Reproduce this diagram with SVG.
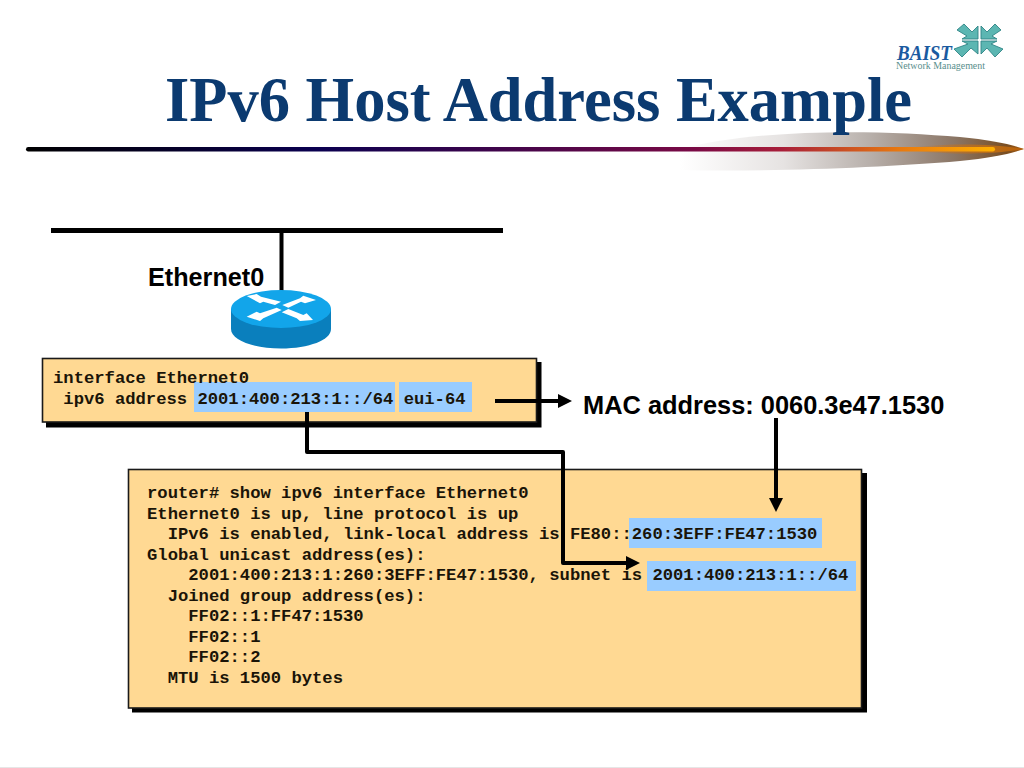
<svg xmlns="http://www.w3.org/2000/svg" width="1024" height="768" viewBox="0 0 1024 768">
<style>
.code{font-family:"Liberation Mono","Courier New",monospace;font-weight:700;font-size:17.2px;fill:#1a1408;white-space:pre}
.lab{font-family:"Liberation Sans",Arial,sans-serif;font-weight:700;fill:#000}
.hl{fill:#99ccff}
.box{fill:#ffd993;stroke:#1a1a1a;stroke-width:1.6}
.conn{fill:none;stroke:#000;stroke-width:4;stroke-linejoin:round}
.arm{fill:#5cb6b2;stroke:#2f8586;stroke-width:.9}
</style>
<defs>
<linearGradient id="rule" x1="26" y1="0" x2="995" y2="0" gradientUnits="userSpaceOnUse">
<stop offset="0" stop-color="#000"/><stop offset=".3" stop-color="#0a0050"/><stop offset=".69" stop-color="#7a0a45"/><stop offset=".78" stop-color="#a81f3a"/><stop offset=".9" stop-color="#e8780f"/><stop offset="1" stop-color="#ffb000"/>
</linearGradient>
<linearGradient id="comet" x1="680" y1="0" x2="1024" y2="0" gradientUnits="userSpaceOnUse">
<stop offset="0" stop-color="#fff"/><stop offset=".3" stop-color="#e6e3e2"/><stop offset=".55" stop-color="#b8b0ab"/><stop offset=".8" stop-color="#8a7565"/><stop offset=".95" stop-color="#7a4e22"/><stop offset="1" stop-color="#a85a0c"/>
</linearGradient>
<linearGradient id="glow" x1="900" y1="0" x2="1024" y2="0" gradientUnits="userSpaceOnUse">
<stop offset="0" stop-color="#d8700f" stop-opacity="0"/><stop offset=".75" stop-color="#c8700f" stop-opacity=".8"/><stop offset="1" stop-color="#b8600c"/>
</linearGradient>
<marker id="head" markerUnits="userSpaceOnUse" markerWidth="16" markerHeight="14" refX="4" refY="7" orient="auto"><path d="M0 0L14 7L0 14Z" fill="#000"/></marker>
</defs>
<rect width="1024" height="768" fill="#fff"/>
<rect x="0" y="767" width="1024" height="1" fill="#e6e6e6"/>

<g id="title-rule">
<path d="M680 149C760 128 880 130 960 137C990 140 1010 144 1024 149C1010 154 990 158 960 161C880 168 760 172 680 170Z" fill="url(#comet)"/>
<path d="M900 149C940 143 990 143 1024 149C990 155 940 155 900 149Z" fill="url(#glow)"/>
<rect x="26" y="147" width="969" height="4.500" rx="2.200" fill="url(#rule)"/>
</g>
<text id="title" x="165" y="121" textLength="747" lengthAdjust="spacingAndGlyphs" font-family="'Liberation Serif','Times New Roman',serif" font-weight="700" font-size="64" fill="#0b3a70">IPv6 Host Address Example</text>

<g id="logo">
<path class="arm" d="M957 30L964 24L972 32L978 26L978 39L962 39L967 36Z"/>
<path class="arm" d="M1001 30L995 24L987 32L981 26L981 39L997 39L992 36Z"/>
<path class="arm" d="M954 49L962 57L971 48L978 54L978 41L962 41L968 44Z"/>
<path class="arm" d="M1003 49L995 57L987 48L981 54L981 41L997 41L991 44Z"/>
<text x="897" y="59.500" textLength="55" lengthAdjust="spacingAndGlyphs" font-family="'Liberation Serif',serif" font-style="italic" font-weight="700" font-size="20" fill="#1a5aa0">BAIST</text>
<text x="896" y="69" textLength="89" lengthAdjust="spacingAndGlyphs" font-family="'Liberation Serif',serif" font-size="9.400" fill="#5a8f8d">Network Management</text>
</g>

<g id="ethernet-segment">
<rect x="51" y="228" width="452" height="5" fill="#000"/>
<rect x="279.500" y="230" width="4" height="66" fill="#000"/>
<text class="lab" x="148" y="286" font-size="25.200">Ethernet0</text>
</g>

<g id="router">
<path d="M231 309V329C231 340 253 348.500 281 348.500C309 348.500 331 340 331 329V309Z" fill="#0a7fbd"/>
<ellipse cx="281" cy="309" rx="50" ry="19" fill="#12a5ea"/>
<g fill="#fff">
<path d="M246.700 296L256.700 294L261 296.700L281 301.700L275 305L263.300 301.700L260 303.300Z"/>
<path d="M316 300L303.300 295.700L300 298.300L282.300 305L288.300 307.700L301 301.700L305 303.300Z"/>
<path d="M246.700 316.700L260 321L263.300 318.300L281.700 310L276.700 307.700L260 313.300L256.700 311.700Z"/>
<path d="M313 320L300 321L296.700 318.300L281.700 312.300L288.300 309L303.300 315L306.700 313.300Z"/>
</g>
</g>

<g id="config-box">
<rect x="46" y="362" width="495.500" height="65.500" fill="#000"/>
<rect class="box" x="42.500" y="358.500" width="494" height="63.500"/>
<rect class="hl" x="194" y="382" width="201" height="30"/>
<rect class="hl" x="399" y="382" width="73" height="30"/>
<text class="code" x="53" y="383">interface Ethernet0</text>
<text class="code" x="53" y="404"> ipv6 address 2001:400:213:1::/64 eui-64</text>
</g>

<g id="output-box">
<rect x="132" y="473" width="735" height="239.500" fill="#000"/>
<rect class="box" x="128.500" y="469.500" width="733" height="238.500"/>
<rect class="hl" x="629" y="518" width="193" height="30"/>
<rect class="hl" x="647" y="561" width="209" height="30"/>
<text class="code" x="147" y="498">router# show ipv6 interface Ethernet0</text>
<text class="code" x="147" y="518.500">Ethernet0 is up, line protocol is up</text>
<text class="code" x="147" y="539">  IPv6 is enabled, link-local address is FE80::260:3EFF:FE47:1530</text>
<text class="code" x="147" y="559.500">Global unicast address(es):</text>
<text class="code" x="147" y="580">    2001:400:213:1:260:3EFF:FE47:1530, subnet is 2001:400:213:1::/64</text>
<text class="code" x="147" y="600.500">  Joined group address(es):</text>
<text class="code" x="147" y="621">    FF02::1:FF47:1530</text>
<text class="code" x="147" y="641.500">    FF02::1</text>
<text class="code" x="147" y="662">    FF02::2</text>
<text class="code" x="147" y="682.500">  MTU is 1500 bytes</text>
</g>

<text id="mac-label" class="lab" x="583" y="414" font-size="25.400">MAC address: 0060.3e47.1530</text>

<g id="connectors">
<path class="conn" d="M495 401H562" marker-end="url(#head)"/>
<path class="conn" d="M776 418V502" marker-end="url(#head)"/>
<path class="conn" d="M307 412V452H563V563H630" marker-end="url(#head)"/>
</g>
</svg>
